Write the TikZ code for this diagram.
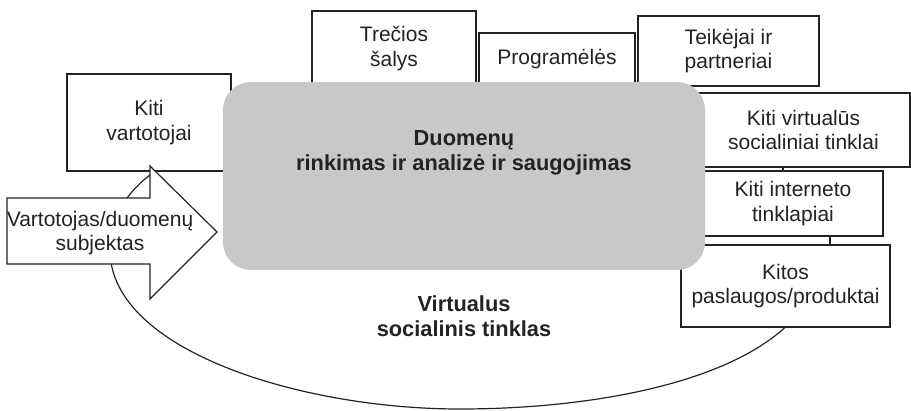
\documentclass[tikz,border=0pt]{standalone}
\usepackage{fontspec}
\setmainfont{Liberation Sans}
\usepackage{tikz}
\usetikzlibrary{positioning}
\usetikzlibrary{calc}
\definecolor{datagrey}{RGB}{200,200,200}
\definecolor{linedark}{RGB}{35,35,35}
\tikzset{site node/.style={rectangle,draw=linedark,fill=white,line width=1.2pt,inner sep=0pt,outer sep=0pt,align=center,text=linedark,font=\fontsize{21}{24.5}\selectfont},}
\tikzset{data node/.style={rectangle,fill=datagrey,rounded corners=28pt,inner sep=0pt,outer sep=0pt},}
\tikzset{bold text/.style={align=center,text=linedark,font=\fontsize{21.8}{24.5}\selectfont\bfseries},}

\begin{document}
\begin{tikzpicture}[x=1pt, y=-1pt, line width=1.2pt, draw=linedark]
	\useasboundingbox (0,0) rectangle (911,410);
	% boxes behind the grey block
	\node[site node, minimum width=164pt, minimum height=97pt] (kiti) at (149,122.5) {Kiti\\vartotojai};
	\node[site node, minimum width=164pt, minimum height=75pt] (trec) at (394,48.5) {Trečios\\šalys};
	\node[site node, minimum width=156pt, minimum height=53pt] (prog) at (557,59.5) {Programėlės};
	\node[site node, minimum width=181pt, minimum height=70pt] (teik) at (728.5,51) {Teikėjai ir\\partneriai};
	\node[site node, minimum width=213pt, minimum height=74pt] (virt) at (803.5,130) {Kiti virtualūs\\socialiniai tinklai};
	\node[site node, minimum width=180pt, minimum height=65pt] (inter) [below = 4pt of virt, xshift=-10.5pt] {Kiti interneto\\tinklapiai};
	\node[site node, minimum width=209pt, minimum height=82pt] (kitos) [below = 9pt of inter, xshift=-7.5pt] {Kitos\\paslaugos/produktai};

	\draw ([xshift=-20.5pt]virt.south) -- ([xshift=-20.5pt]virt.south |- inter.north);
	\draw ([xshift=37pt]inter.south) -- ([xshift=37pt]inter.south |- kitos.north);

	% grey block
	\node[data node, minimum width=482pt, minimum height=188pt] (data) at (464,176) {};
	\node[bold text] (datatext) at ([yshift=23pt]data.center) {Duomenų\\rinkimas ir analizė ir saugojimas};
	\node[bold text] (vsn) at (464,316) {Virtualus\\socialinis tinklas};

	% loop round the network
	\coordinate (notch) at (150,175);
	\draw (kitos.south) .. controls (720,387) and (580,409) .. (460,409)
		.. controls (300,409) and (110,350) .. (110,250)
		.. controls (110,215) and (130,190) .. (notch);

	% user arrow
	\draw[fill=white] (7,198) -- (150,198) -- (150,166) -- (217,232) -- (150,299) -- (150,264) -- (7,264) -- cycle;
	\node[site node, draw=none, fill=none] (subj) at (100,233) {Vartotojas/duomenų\\subjektas};
\end{tikzpicture}
\end{document}
